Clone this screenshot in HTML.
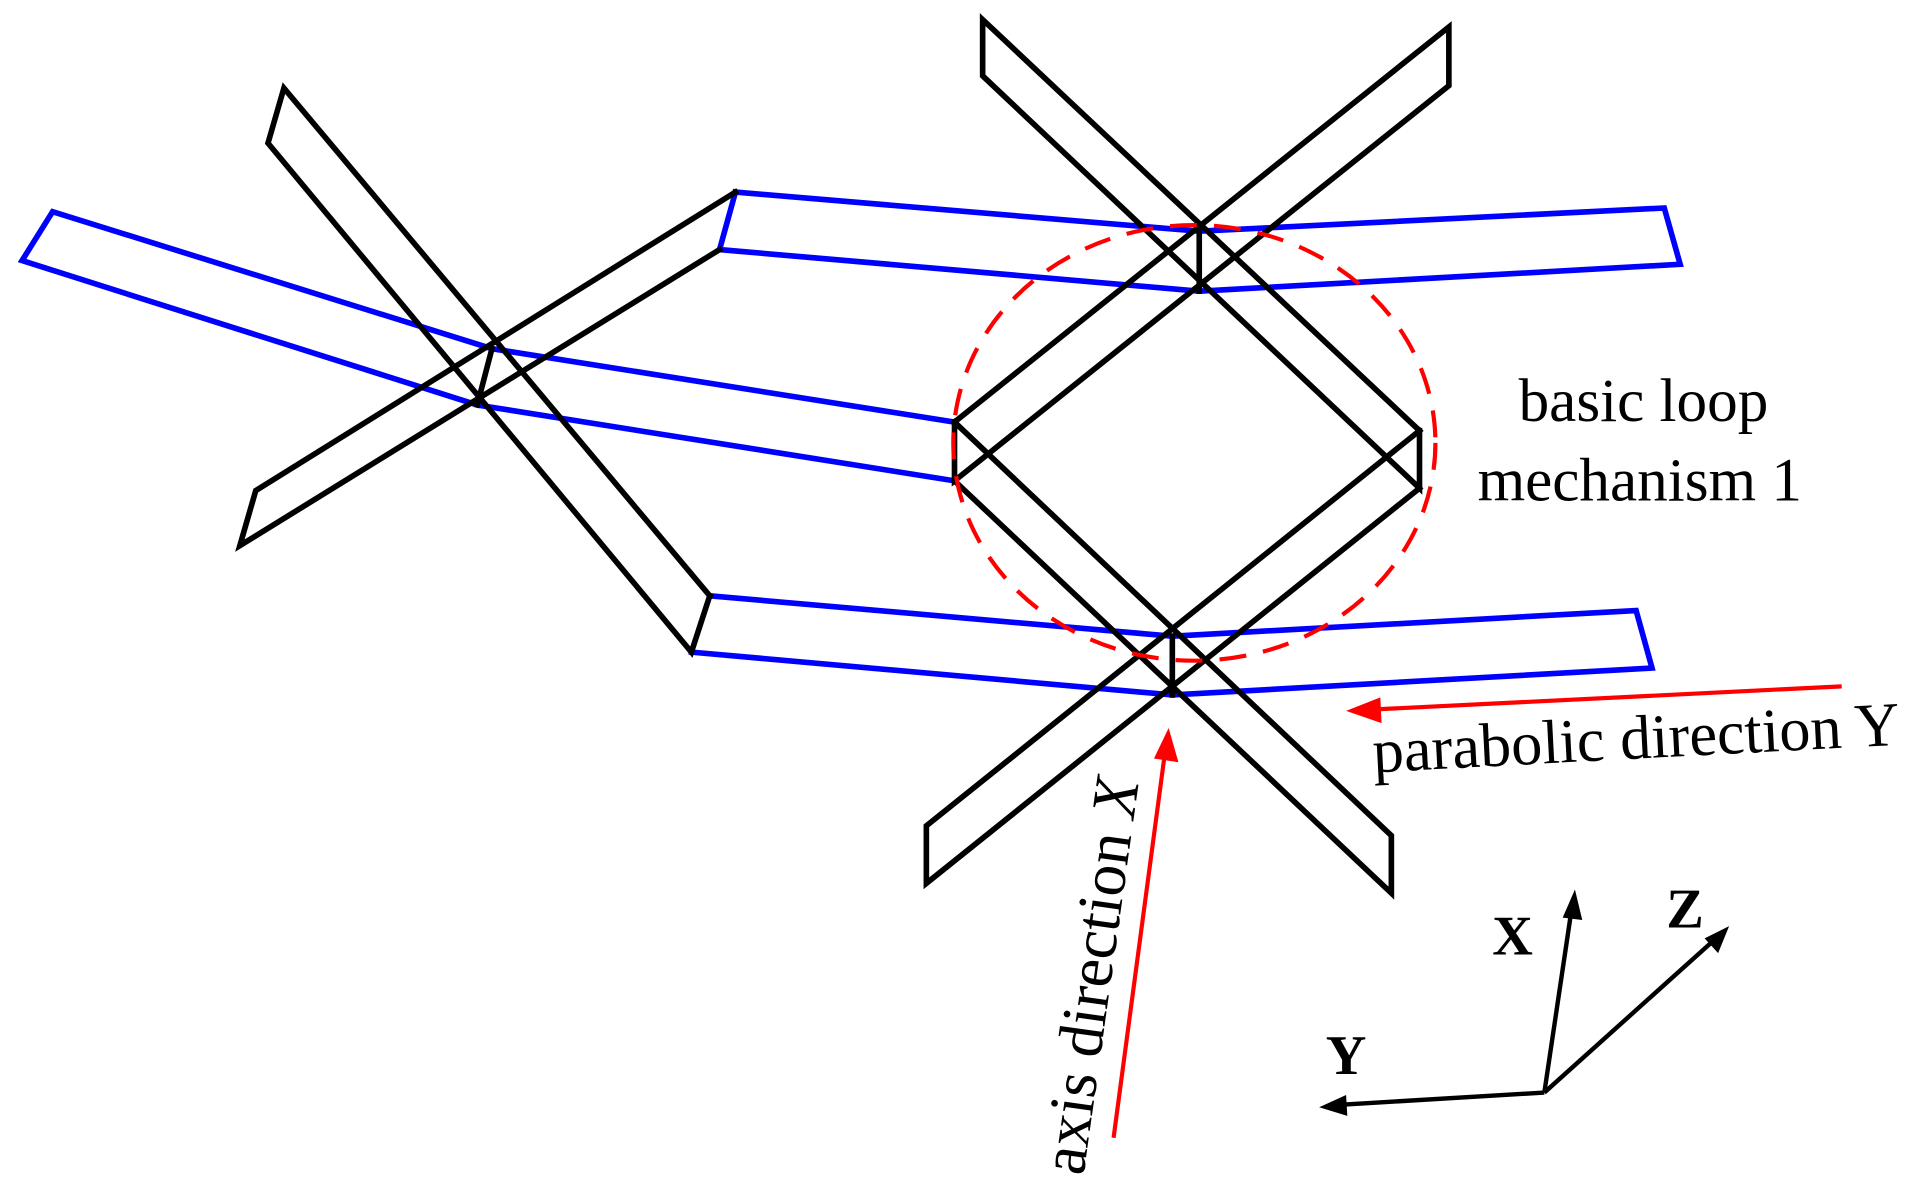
<!DOCTYPE html>
<html><head><meta charset="utf-8"><style>html,body{margin:0;padding:0;background:#fff;}svg{display:block;}</style></head>
<body>
<svg width="1909" height="1188" viewBox="0 0 1560 971" preserveAspectRatio="none" xmlns="http://www.w3.org/2000/svg">
<g fill="none" stroke-linejoin="miter" stroke-linecap="square">
<g stroke="#0000ff" stroke-width="4.6">
<polyline points="780,345 402,285 43,173 18,213 390,331 780,393"/>
<polyline points="601,157 980,189 1360,170 1373,216 980,238 588,204 601,157"/>
<polyline points="580,487 958,520 1337,499 1350,546 958,568 565,533"/>
</g>
<g stroke="#000" stroke-width="4.6">
<polyline points="580,487 232,72 219,117 565,533 580,487"/>
<polyline points="601,157 209,401 196,446 588,204"/>
<line x1="402" y1="285" x2="390" y2="331"/>
<polyline points="1160,352 803,16 803,62 1160,399 1160,352"/>
<polyline points="780,345 1184,22 1184,70 780,393 780,345"/>
<line x1="980" y1="189" x2="980" y2="238"/>
<polyline points="780,345 1137,683 1137,730 780,393"/>
<polyline points="1160,352 757,675 757,722 1160,399"/>
<line x1="958" y1="520" x2="958" y2="568"/>
</g>
<ellipse cx="976" cy="362" rx="197" ry="178" stroke="#ff0000" stroke-width="3.4" stroke-dasharray="22,14" stroke-linecap="butt"/>
<g stroke="#ff0000" stroke-width="3.4" stroke-linecap="butt">
<line x1="1505" y1="561" x2="1120" y2="580"/>
<line x1="910" y1="930" x2="952" y2="615"/>
</g>
</g>
<polygon points="1100,581 1128,570 1129,591" fill="#ff0000"/>
<polygon points="955,595 963,623 943,620" fill="#ff0000"/>
<g stroke="#000" stroke-width="3.6" fill="none">
<line x1="1262" y1="893" x2="1284" y2="745"/>
<line x1="1262" y1="893" x2="1400" y2="769"/>
<line x1="1262" y1="893" x2="1095" y2="903"/>
</g>
<polygon points="1287,727 1293,752 1277,750" fill="#000"/>
<polygon points="1413,757 1404,779 1393,767" fill="#000"/>
<polygon points="1078,905 1100,895 1101,912" fill="#000"/>
<g font-family="Liberation Serif, serif" fill="#000">
<text x="1343" y="344" font-size="50" text-anchor="middle">basic loop</text>
<text x="1340" y="409" font-size="50" text-anchor="middle">mechanism 1</text>
<text x="1337" y="620" font-size="51" text-anchor="middle" transform="rotate(-3 1337 603)">parabolic direction Y</text>
<text x="0" y="0" font-size="52" text-anchor="middle" transform="translate(908 800) rotate(-82)">axis direction <tspan font-style="italic">X</tspan></text>
<text x="1236" y="780" font-size="46" font-weight="bold" text-anchor="middle">X</text>
<text x="1377" y="758" font-size="46" font-weight="bold" text-anchor="middle">Z</text>
<text x="1100" y="878" font-size="46" font-weight="bold" text-anchor="middle">Y</text>
</g>
</svg>
</body></html>
